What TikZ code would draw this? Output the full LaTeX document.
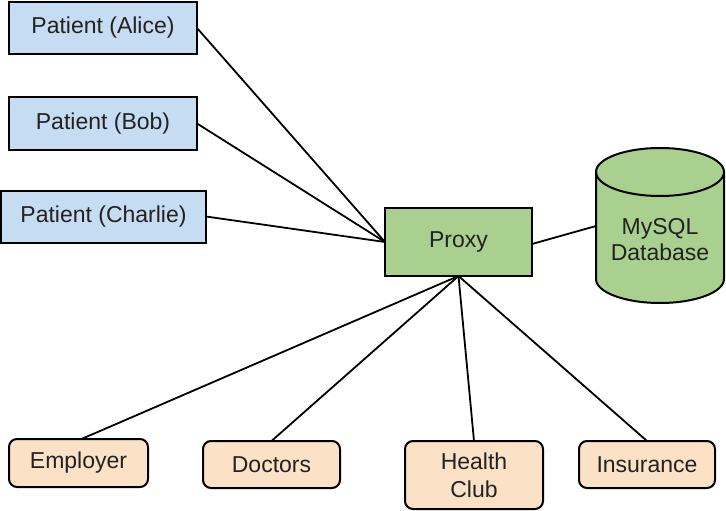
\documentclass[tikz,border=0pt]{standalone}
\usepackage{fontspec}
\setmainfont{Liberation Sans}
\definecolor{pblue}{HTML}{C6DCF2}
\definecolor{pgreen}{HTML}{A9D08E}
\definecolor{porange}{HTML}{FBE1C6}
\definecolor{ink}{HTML}{222222}
\begin{document}
\begin{tikzpicture}[x=1pt,y=-1pt,
  every node/.style={font=\fontsize{23}{27}\selectfont, text=ink, inner sep=0pt, outer sep=0pt},
  patient/.style={draw=black, line width=2pt, fill=pblue, minimum height=52pt},
  proxybox/.style={draw=black, line width=2pt, fill=pgreen, minimum width=147pt, minimum height=68pt},
  party/.style={draw=black, line width=2pt, fill=porange, rounded corners=8pt, align=center},
  link/.style={draw=black, line width=1.8pt}]
\useasboundingbox (0,0) rectangle (726,511);
% patients
\node[patient, minimum width=188pt] (alice) at (103,28) {Patient (Alice)};
\node[patient, minimum width=188pt] (bob) at (103,123.5) {Patient (Bob)};
\node[patient, minimum width=205pt] (charlie) at (103.5,216.5) {Patient (Charlie)};
% proxy
\node[proxybox] (proxy) at (458.5,242) {Proxy};
% database cylinder
\path[draw=black, line width=2pt, fill=pgreen]
  (596,172) -- (596,279) arc[start angle=180, end angle=0, x radius=64, y radius=24]
  -- (724,172) arc[start angle=0, end angle=-180, x radius=64, y radius=24] -- cycle;
\draw[black, line width=2pt] (596,172) arc[start angle=180, end angle=0, x radius=64, y radius=24];
\node[align=center] (db) at (660,240) {MySQL\\[-1pt]Database};
\coordinate (dbw) at (596,226);
% parties
\node[party, minimum width=139pt, minimum height=48pt] (emp) at (78.5,463) {Employer};
\node[party, minimum width=137pt, minimum height=47pt] (doc) at (271.5,464.5) {Doctors};
\node[party, minimum width=138pt, minimum height=68pt] (club) at (474,475) {Health\\[1pt]Club};
\node[party, minimum width=136pt, minimum height=47pt] (ins) at (647,464.5) {Insurance};
% connectors
\draw[link] (alice.east) -- (proxy.west);
\draw[link] (bob.east) -- (proxy.west);
\draw[link] (charlie.east) -- (proxy.west);
\draw[link] ([yshift=-2pt]proxy.east) -- (dbw);
\draw[link] (proxy.south) -- ([xshift=3pt]emp.north);
\draw[link] (proxy.south) -- (doc.north);
\draw[link] (proxy.south) -- (club.north);
\draw[link] (proxy.south) -- (ins.north);
\end{tikzpicture}
\end{document}
